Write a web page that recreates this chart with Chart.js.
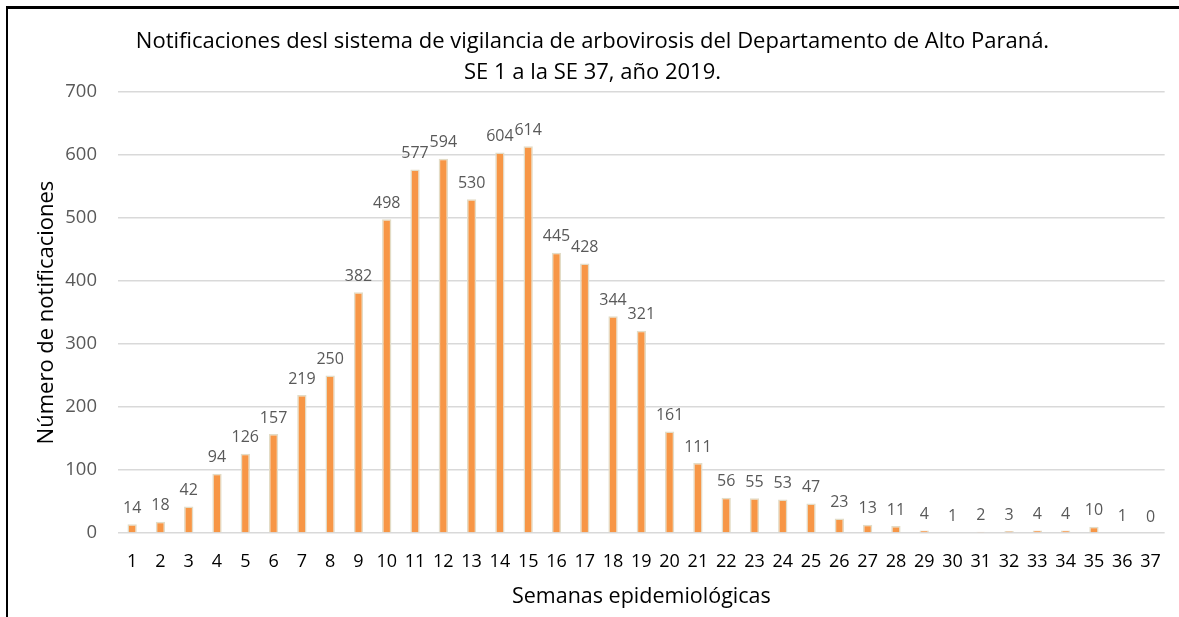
<!DOCTYPE html>
<html>
<head>
<meta charset="utf-8">
<script src="https://cdn.jsdelivr.net/npm/chart.js@4"></script>
<style>
  html, body { margin: 0; padding: 0; background: #fff; }
  #wrap { position: relative; width: 1179px; height: 617px; }
  #frame { position: absolute; left: 6px; top: 6px; right: -4px; bottom: -4px;
           border-left: 2px solid #000; border-top: 3px solid #000; pointer-events: none; }
</style>
</head>
<body>
<div id="wrap">
  <canvas id="arboChart" width="1179" height="617"></canvas>
  <div id="frame"></div>
</div>
<script>
// semanas epidemiológicas y notificaciones
const semanas = ['1','2','3','4','5','6','7','8','9','10','11','12','13','14','15','16','17','18','19',
                 '20','21','22','23','24','25','26','27','28','29','30','31','32','33','34','35','36','37'];
const notificaciones = [14, 18, 42, 94, 126, 157, 219, 250, 382, 498, 577, 594, 530, 604, 614, 445, 428,
                        344, 321, 161, 111, 56, 55, 53, 47, 23, 13, 11, 4, 1, 2, 3, 4, 4, 10, 1, 0];
const tituloLineas = ['Notificaciones desl sistema de vigilancia de arbovirosis del Departamento de Alto Paraná.',
                      'SE 1 a la SE 37, año 2019.'];

const fuente = '"Open Sans", Lato, sans-serif';

// etiquetas encima de cada barra
const etiquetasBarras = {
    id: 'etiquetasBarras',
    afterDatasetsDraw(chart) {
        const c = chart.ctx;
        const meta = chart.getDatasetMeta(0);
        c.save();
        c.font = '16px ' + fuente;
        c.fillStyle = '#595959';
        c.textAlign = 'center';
        c.textBaseline = 'bottom';
        meta.data.forEach((bar, i) => {
            c.fillText(String(notificaciones[i]), bar.x, bar.y - 8);
        });
        c.restore();
    }
};

const ctx = document.getElementById('arboChart').getContext('2d');
const arboChart = new Chart(ctx, {
    type: 'bar',
    data: {
        labels: semanas,
        datasets: [{
            data: notificaciones,
            backgroundColor: '#f79646',
            borderColor: '#e3dcc6',
            borderWidth: 1.5,
            categoryPercentage: 1,
            barPercentage: 0.33
        }]
    },
    options: {
        responsive: false,
        animation: false,
        layout: { padding: { left: 20, right: 14, top: 0, bottom: 0 } },
        plugins: {
            legend: { display: false },
            tooltip: { enabled: false },
            title: {
                display: true,
                text: tituloLineas,
                color: '#000',
                font: { family: fuente, size: 22, weight: 'normal', lineHeight: 1.41 },
                padding: { top: 26, bottom: 4 }
            }
        },
        scales: {
            x: {
                grid: { display: false, drawTicks: false },
                border: { display: false },
                ticks: { color: '#000', font: { family: fuente, size: 18 }, padding: 18, maxRotation: 0, autoSkip: false },
                title: { display: true, text: 'Semanas epidemiológicas', color: '#000',
                         font: { family: fuente, size: 21.5 }, padding: { top: 0, bottom: 7 } },
                afterFit(scale) { scale.height = 84; }
            },
            y: {
                min: 0,
                max: 700,
                ticks: { stepSize: 100, color: '#595959', font: { family: fuente, size: 18.5 }, padding: 21 },
                grid: { color: '#d9d9d9', lineWidth: 1.5, drawTicks: false },
                border: { display: false },
                title: { display: true, text: 'Número de notificaciones', color: '#000',
                         font: { family: fuente, size: 22 }, padding: { top: 14, bottom: 0 } },
                afterFit(scale) { scale.width = 98; }
            }
        }
    },
    plugins: [etiquetasBarras]
});
</script>
</body>
</html>
